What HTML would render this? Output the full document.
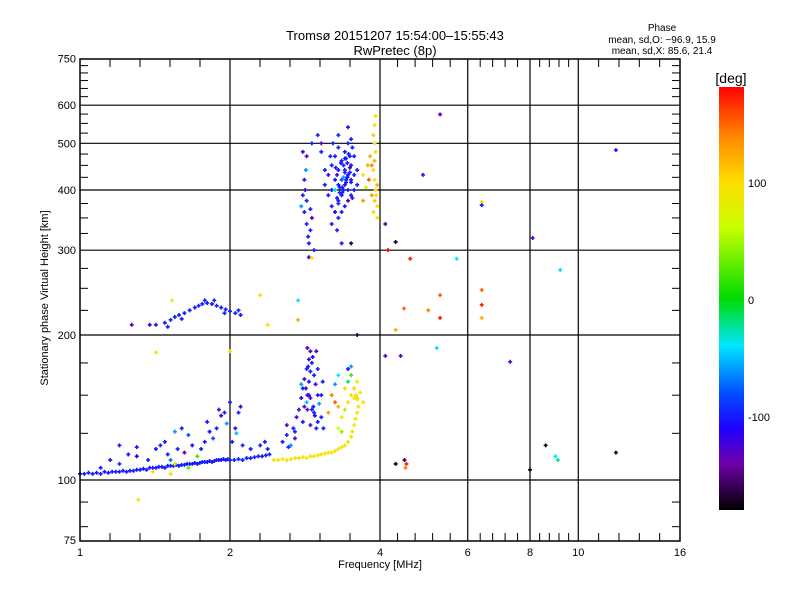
<!DOCTYPE html>
<html><head><meta charset="utf-8"><style>
body{margin:0;background:#fff;}
svg{display:block;font-family:"Liberation Sans",sans-serif;}
</style></head><body>
<svg id="chart" width="800" height="600" xmlns="http://www.w3.org/2000/svg">
<defs>
<linearGradient id="cbgrad" x1="0" y1="1" x2="0" y2="0">
<stop offset="0" stop-color="#000"/><stop offset="0.111" stop-color="#6e00aa"/><stop offset="0.194" stop-color="#1e00ff"/><stop offset="0.278" stop-color="#0050ff"/><stop offset="0.389" stop-color="#00e6ff"/><stop offset="0.5" stop-color="#00dc00"/><stop offset="0.667" stop-color="#c8ff00"/><stop offset="0.778" stop-color="#ffdc00"/><stop offset="0.889" stop-color="#ff8200"/><stop offset="1" stop-color="#ff0000"/>
</linearGradient>
</defs>
<text x="395" y="40" font-size="13" text-anchor="middle">Tromsø 20151207 15:54:00–15:55:43</text>
<text x="395" y="55" font-size="13" text-anchor="middle">RwPretec (8p)</text>
<text x="662" y="31" font-size="10" text-anchor="middle">Phase</text>
<text x="662" y="43" font-size="10" text-anchor="middle">mean, sd,O: −96.9, 15.9</text>
<text x="662" y="54" font-size="10" text-anchor="middle">mean, sd,X:  85.6, 21.4</text>
<g id="grid"></g>
<g id="marks"></g>
<rect x="80" y="59" width="600" height="482" fill="none" stroke="#000" stroke-width="1.5"/>
<g id="axes"></g>
<text x="380" y="568" font-size="11" text-anchor="middle">Frequency [MHz]</text>
<text transform="translate(48,298) rotate(-90)" font-size="11" text-anchor="middle">Stationary phase Virtual Height [km]</text>
<rect x="719" y="87" width="25" height="423" fill="url(#cbgrad)"/>
<text x="731" y="83" font-size="14" text-anchor="middle">[deg]</text>
<text x="748" y="187" font-size="11">100</text>
<text x="748" y="304" font-size="11">0</text>
<text x="748" y="421" font-size="11">-100</text>
</svg>
<script>
const xTickValues=[1,2,4,6,8,10,16];
const xTickLabels=["1","2","4","6","8","10","16"];
const yGridValues=[100,200,300,400,500,600];
const yTickValues=[75,100,200,300,400,500,600,750];
const yTickLabels=["75","100","200","300","400","500","600","750"];
// base O-trace
const baseFreqs=[1.00,1.02,1.04,1.06,1.08,1.10,1.12,1.14,1.16,1.18,1.20,1.22,1.24,1.26,1.28,1.30,1.32,1.34,1.36,1.38,1.40,1.42,1.44,1.46,1.48,1.50,1.52,1.54,1.56,1.58,1.60,1.62,1.64,1.66,1.68,1.70,1.72,1.74,1.76,1.78,1.80,1.82,1.84,1.86,1.88,1.90,1.92,1.94,1.96,1.98,2.0,2.04,2.08,2.12,2.16,2.20,2.24,2.28,2.32,2.36,2.40];
const baseHeights=[103,103,103.5,103,103.5,103,104,103.5,104,104,104,104.5,104,104.5,104.5,105,105,105.5,105,106,106,106,106.5,106.5,106,107,107,107,107.5,107,107.5,107.5,108,108,108,108.5,108,108.5,109,109,109,109.5,109,109.5,110,110,110,110.5,110,110.5,110,110,110.5,110,111,111,111.5,112,112,112.5,113];
// other points
const freqs=[
1.15,1.2,1.25,1.3,1.37,1.42,1.45,1.52,1.55,1.57,1.6,1.62,1.48,1.5,1.68,1.72,1.75,1.78,1.8,1.82,1.85,1.88,1.9,1.92,1.95,1.97,2.02,2.05,2.08,2.1,2.06,2.0,2.12,2.2,2.3,2.35,2.38,1.65,1.55,1.52,1.65,1.4,1.1,1.2,1.3,
2.45,2.5,2.55,2.6,2.65,2.7,2.75,2.8,2.85,2.9,2.95,3.0,3.05,3.1,3.15,3.2,3.25,3.3,3.35,3.4,3.45,3.5,3.52,3.55,3.57,3.6,3.62,3.6,3.58,3.55,
2.55,2.6,2.65,2.7,2.72,2.75,2.78,2.8,2.82,2.85,2.88,2.9,2.92,2.95,2.97,3.0,3.02,3.05,3.07,2.85,2.88,2.92,2.8,2.9,2.95,3.0,2.78,2.82,2.86,2.93,3.0,2.98,3.05,3.08,2.7,2.68,2.6,2.62,
3.3,3.35,3.4,3.45,3.5,3.55,3.6,3.3,3.4,3.45,3.5,3.55,3.2,3.25,3.3,3.45,3.5,3.15,3.35,3.6,3.65,3.7,3.25,
3.2,3.25,3.3,3.35,3.4,3.45,3.5,3.3,3.35,3.4,3.45,3.5,3.55,3.2,3.25,3.3,3.15,3.1,3.15,3.2,3.25,3.3,3.35,3.4,3.45,3.5,3.55,3.4,3.35,3.45,3.5,3.25,3.3,3.38,3.42,3.48,3.52,3.38,3.28,3.22,3.18,3.1,3.05,3.3,3.45,3.2,3.28,3.35,3.55,3.6,3.6,
3.32,3.36,3.42,3.44,3.48,3.26,3.34,3.4,3.46,3.52,3.3,3.38,3.44,3.36,3.4,3.48,3.32,3.42,3.5,3.28,
2.82,2.85,2.87,2.88,2.9,2.92,2.85,2.8,2.83,2.9,2.95,2.78,2.88,2.8,2.85,2.92,2.84,3.0,3.05,2.82,
2.88,2.86,2.9,2.84,2.87,2.9,2.94,2.96,2.98,2.86,
3.88,3.9,3.92,3.9,3.88,3.9,3.92,3.9,3.88,3.9,3.92,3.85,3.95,3.95,3.85,3.82,3.95,3.8,3.75,3.7,3.7,3.78,4.15,3.93,
1.38,1.42,1.48,1.52,1.55,1.58,1.62,1.66,1.7,1.73,1.76,1.8,1.84,1.88,1.92,1.96,2.0,2.05,2.1,1.5,1.6,1.78,1.86,1.95,2.08,1.27,
1.31,1.42,1.53,2.3,2.74,2.74,2.92,4.1,4.4,4.52,4.48,4.5,5.28,4.88,6.4,6.4,8.1,9.2,11.9,7.3,8.6,9.0,9.1,11.9,6.4,6.4,6.4,5.28,5.28,5.0,4.6,4.3,4.47,5.2,5.7,3.6,3.5,2.0,2.38,4.1,4.3,4.3,8.0];
const heights=[
110,108,113,112,110,116,118,110,126,116,128,114,120,113,118,112,116,120,132,126,122,128,140,136,138,131,120,128,138,142,125,145,118,116,118,120,116,124,108,103,106,104,106,118,117,
110,110,110.5,110,110.5,111,111,111.5,111,112,112,112.5,113,113.5,114,114,115,116,117,118,120,123,126,130,134,138,142,147,150,155,
120,124,118,126,135,140,148,155,162,170,178,185,175,165,158,150,144,150,160,145,150,140,132,130,138,132,158,142,188,180,170,185,135,128,122,128,130,117,
128,135,140,145,150,155,160,142,155,160,165,148,150,158,165,170,172,138,126,148,152,145,145,
400,420,440,460,480,500,510,380,390,410,430,450,470,370,360,350,390,410,430,450,470,490,420,440,400,420,430,370,360,380,390,400,410,400,420,470,490,450,430,500,470,440,480,520,540,340,330,310,400,410,440,
395,405,415,425,435,445,455,465,475,385,375,425,455,395,435,445,405,465,415,385,
360,340,320,310,330,350,380,390,400,365,300,370,290,480,470,500,440,520,500,420,
160,150,168,155,172,148,142,136,128,140,
360,380,400,420,440,460,480,500,520,545,570,390,370,410,450,470,350,420,405,430,380,450,300,390,
210,210,212,215,218,220,222,225,228,230,232,233,232,230,228,226,224,222,220,208,216,236,236,222,225,210,
91,184,236,242,236,215,289,181,181,108,110,106,574,430,378,372,318,273,484,176,118,112,110,114,248,231,217,242,217,225,288,312,227,188,288,200,310,185,210,340,205,108,105];
const phases=[
-100,-90,-100,-110,-95,-100,-100,-70,-60,-100,-100,-130,-100,-100,-110,20,-100,-100,-100,-110,-80,-100,-100,-120,-100,-60,-100,-100,-100,-120,-50,-100,-100,-100,-100,-100,-100,-80,80,100,30,100,-100,-100,-100,
90,95,85,90,95,90,85,90,95,90,85,90,95,90,85,90,95,90,85,90,95,90,85,90,95,80,90,70,100,85,
-100,-100,-60,-100,-130,-100,-110,-100,-130,-100,-120,-130,-100,-100,-130,-100,-60,-100,-100,-50,-100,-100,-100,-130,-100,-100,-60,-130,-130,-110,-100,-120,-100,-100,-130,-100,-130,-100,
60,80,50,100,90,100,80,120,100,-20,20,90,140,-60,-40,-100,-60,130,40,100,90,100,150,
-100,-100,-100,-100,-100,-100,-100,-100,-100,-100,-100,-100,-100,-100,-110,-100,-100,-100,-130,-100,-100,-100,-80,-100,-100,-100,-100,-100,-100,-130,-100,-40,-100,-100,-100,-100,-100,-100,-130,-100,-100,-100,-100,-100,-100,-100,-100,-100,-100,-100,-100,
-100,-100,-100,-110,-100,-100,-100,-100,-100,-100,-100,-60,-100,-100,-100,-130,-100,-100,-100,-100,
-100,-100,-100,-100,-100,-130,-100,-100,-120,-100,-100,-60,-130,-130,-130,-100,-60,-100,-130,-100,
-100,-130,-100,-120,-100,-130,-100,-110,-100,-130,
100,110,100,90,100,120,100,90,110,100,90,130,100,120,140,120,100,150,60,100,130,120,180,100,
-120,-100,-100,-100,-100,-100,-100,-100,-100,-100,-100,-100,-100,-100,-100,-100,-100,-100,-100,-100,-100,-100,-100,-100,-100,-130,
90,80,70,100,-40,120,90,-130,-130,170,-160,140,-130,-100,100,-100,-130,-40,-100,-130,-170,-40,-30,-170,150,170,120,150,170,140,170,-170,150,-40,-40,-160,-170,100,100,-150,120,-180,-170];

const NS="http://www.w3.org/2000/svg";
function xs(f){return 80+Math.log2(f)*150;}
function ys(h){return 480-Math.log2(h/100)*145;}
const stops=[[-180,0,0,0],[-140,110,0,170],[-110,30,0,255],[-80,0,80,255],[-40,0,230,255],[0,0,220,0],[60,200,255,0],[100,255,220,0],[140,255,130,0],[180,255,0,0]];
function color(p){
  for(let i=1;i<stops.length;i++){ if(p<=stops[i][0]){const a=stops[i-1],b=stops[i];const t=(p-a[0])/(b[0]-a[0]);
    return `rgb(${Math.round(a[1]+t*(b[1]-a[1]))},${Math.round(a[2]+t*(b[2]-a[2]))},${Math.round(a[3]+t*(b[3]-a[3]))})`;}}
  return "rgb(255,0,0)";
}
function line(g,x1,y1,x2,y2,w){const l=document.createElementNS(NS,"line");l.setAttribute("x1",x1);l.setAttribute("y1",y1);l.setAttribute("x2",x2);l.setAttribute("y2",y2);l.setAttribute("stroke","#000");l.setAttribute("stroke-width",w||1);g.appendChild(l);return l;}
const grid=document.getElementById("grid"),axes=document.getElementById("axes"),marks=document.getElementById("marks");
xTickValues.forEach((v,i)=>{const x=xs(v);
  if(i>0&&i<xTickValues.length-1){const l=line(grid,x,59,x,541,1.2);
    
    }
  const t=document.createElementNS(NS,"text");t.setAttribute("x",x);t.setAttribute("y",556);t.setAttribute("font-size","11");t.setAttribute("text-anchor","middle");t.textContent=xTickLabels[i];
  
  
  axes.appendChild(t);
  if(i<xTickValues.length-1){const x2=xs(xTickValues[i+1]);for(let k=1;k<5;k++){const xm=x+(x2-x)*k/5;line(axes,xm,541,xm,533,1);line(axes,xm,59,xm,67,1);}}
});
yGridValues.forEach(v=>{const y=ys(v);const l=line(grid,80,y,680,y,1.2);
  
  });
yTickValues.forEach((v,i)=>{const y=ys(v);
  const t=document.createElementNS(NS,"text");t.setAttribute("x",76);t.setAttribute("y",y+4);t.setAttribute("font-size","11");t.setAttribute("text-anchor","end");t.textContent=yTickLabels[i];
  
  
  axes.appendChild(t);});
for(let h=80;h<750;h+=(h<100?10:25)){if(yGridValues.includes(h))continue;const y=ys(h);line(axes,80,y,88,y,1);line(axes,672,y,680,y,1);}
function plus(f,h,p){const x=xs(f),y=ys(h);const el=document.createElementNS(NS,"path");
  el.setAttribute("d",`M${x-2},${y}h4M${x},${y-2}v4`);el.setAttribute("stroke",color(p));el.setAttribute("stroke-width","1.6");
  
  
  marks.appendChild(el);}
baseFreqs.forEach((f,i)=>plus(f,baseHeights[i],-100));
freqs.forEach((f,i)=>plus(f,heights[i],phases[i]));
</script>
</body></html>
